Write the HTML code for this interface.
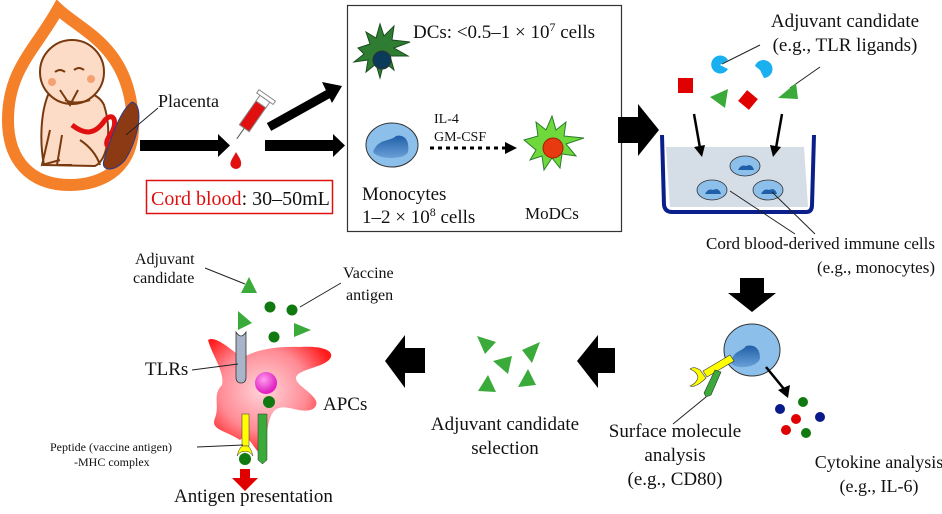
<!DOCTYPE html>
<html><head><meta charset="utf-8"><style>
html,body{margin:0;padding:0;background:#fff;}
svg{display:block;}
text{font-family:"Liberation Serif",serif;fill:#111;}
</style></head><body>
<svg width="942" height="514" viewBox="0 0 942 514" xmlns="http://www.w3.org/2000/svg">
<defs>
<radialGradient id="apc" cx="0.45" cy="0.45" r="0.6"><stop offset="0" stop-color="#ffd6dc"/><stop offset="0.6" stop-color="#ff8a94"/><stop offset="1" stop-color="#ff1a1a"/></radialGradient>
<radialGradient id="pk" cx="0.4" cy="0.35" r="0.6"><stop offset="0" stop-color="#ff9cf0"/><stop offset="1" stop-color="#e020c0"/></radialGradient>
<linearGradient id="nuc" x1="0" y1="0" x2="0" y2="1"><stop offset="0" stop-color="#1f5fa8"/><stop offset="1" stop-color="#6aa0d8"/></linearGradient>
</defs>

<!-- Orange drop / uterus -->
<path d="M58,9 C80,30 125,45 132,110 C140,170 100,185 70,185 C30,185 8,160 8,120 C8,70 35,50 58,9 Z" fill="none" stroke="#f5802a" stroke-width="12"/>
<!-- baby -->
<path d="M48,95 C40,115 40,145 44,165 L95,166 C108,160 112,130 104,105 C98,92 80,90 70,92 Z" fill="#fcdcc6" stroke="#7a3a10" stroke-width="2"/>
<circle cx="72" cy="72" r="32" fill="#fcdcc6" stroke="#7a3a10" stroke-width="2"/>
<path d="M55,72 q5,-4 10,0 M74,70 q5,-4 10,0" stroke="#7a3a10" stroke-width="2" fill="none"/>
<circle cx="52" cy="82" r="4" fill="#f5a070"/><circle cx="91" cy="79" r="4" fill="#f5a070"/>
<path d="M60,90 l10,15 l8,-15 M65,100 q10,5 25,0 M50,130 l-8,35 l18,-5 M62,135 l-5,30 l15,0 M80,140 q15,10 20,25" stroke="#7a3a10" stroke-width="2" fill="none"/>
<path d="M72,125 C85,135 95,135 105,120 C115,110 118,125 110,135 C100,150 115,150 122,140" stroke="#e01010" stroke-width="5" fill="none"/>
<path d="M132,102 C145,105 138,140 125,160 C115,172 100,172 104,160 C110,140 120,110 132,102 Z" fill="#8b3a14" stroke="#2a3a8a" stroke-width="1"/>
<line x1="126" y1="135" x2="158" y2="108" stroke="#222" stroke-width="1"/>
<text x="158" y="107" font-size="18">Placenta</text>

<!-- arrows from cord -->
<rect x="140" y="140" width="80" height="11" fill="#000"/><polygon points="218,134 230,145.5 218,157" fill="#000"/>
<g transform="rotate(35 250 120)"><rect x="244" y="100" width="12" height="30" fill="#e01010" stroke="#888"/><rect x="244" y="94" width="12" height="7" fill="#fff" stroke="#888"/><rect x="240" y="90" width="20" height="4" fill="#fff" stroke="#888"/><line x1="250" y1="130" x2="250" y2="143" stroke="#555"/></g>
<path d="M236,152 C233,158 229,162 231,166 C233,170 240,170 241,165 C242,160 238,156 236,152 Z" fill="#e01010"/>
<rect x="146.5" y="180.5" width="186" height="33" fill="none" stroke="#e01010" stroke-width="1.5"/>
<text x="151" y="205" font-size="20"><tspan fill="#e01010">Cord blood</tspan>: 30–50mL</text>
<line x1="269" y1="127" x2="330" y2="93" stroke="#000" stroke-width="9"/><polygon points="322,82 342,86 332,103" fill="#000"/>
<rect x="265" y="140" width="70" height="11" fill="#000"/><polygon points="333,134 345,145.5 333,157" fill="#000"/>

<!-- box -->
<rect x="347.5" y="5.5" width="274" height="226" fill="none" stroke="#333" stroke-width="1.2"/>
<path d="M358,48 l12,-4 l-4,-12 l10,6 l4,-14 l4,12 l10,-10 l-2,14 l18,2 l-16,6 l14,8 l-18,0 l4,14 l-10,-8 l-4,16 l-4,-14 l-10,8 l2,-12 l-14,2 l10,-8 z" fill="#2e7d32" stroke="#1b4d1f"/>
<circle cx="382" cy="60" r="9" fill="#0b3b5a" stroke="#333"/>
<text x="413" y="38" font-size="19">DCs: &lt;0.5–1 × 10<tspan font-size="12" dy="-7">7</tspan><tspan dy="7"> cells</tspan></text>
<ellipse cx="392" cy="145" rx="26" ry="22" fill="#8cc0ea" stroke="#333"/>
<path d="M373,152 C378,138 390,142 396,136 C404,134 410,140 408,152 C405,160 378,160 373,152 Z" fill="url(#nuc)"/>
<text x="434" y="123" font-size="14">IL-4</text>
<text x="434" y="141" font-size="14">GM-CSF</text>
<line x1="430" y1="148" x2="505" y2="148" stroke="#000" stroke-width="3" stroke-dasharray="4,4"/>
<polygon points="505,142 517,148 505,154" fill="#000"/>
<path d="M524,140 l14,-4 l-2,-14 l10,8 l6,-14 l4,14 l10,-8 l-2,14 l20,2 l-18,6 l10,12 l-14,-2 l-2,14 l-8,-10 l-8,12 l-2,-14 l-12,4 l6,-10 z" fill="#6fd83a" stroke="#2e7d32"/>
<circle cx="553" cy="148" r="10" fill="#e83a10" stroke="#a02000"/>
<text x="362" y="200" font-size="19">Monocytes</text>
<text x="362" y="223" font-size="19">1–2 × 10<tspan font-size="12" dy="-7">8</tspan><tspan dy="7"> cells</tspan></text>
<text x="525" y="219" font-size="17">MoDCs</text>

<polygon points="618,117 638,117 638,104 659,130 638,156 638,143 618,143" fill="#000"/>

<!-- top right -->
<text x="845" y="27" font-size="19" text-anchor="middle">Adjuvant candidate</text>
<text x="845" y="51" font-size="19" text-anchor="middle">(e.g., TLR ligands)</text>
<line x1="760" y1="45" x2="722" y2="64" stroke="#222" stroke-width="1"/>
<line x1="820" y1="67" x2="790" y2="88" stroke="#222" stroke-width="1"/>
<path d="M728,69 A9,9 0 1,1 728,60 L720,65 Z" fill="#1ab0f0"/>
<path d="M755,66 A9,9 0 1,1 764,78 L760,70 Z" fill="#1ab0f0"/>
<rect x="678" y="78" width="15" height="15" fill="#e00000"/>
<rect x="741" y="93" width="14" height="14" fill="#e00000" transform="rotate(40 748 100)"/>
<polygon points="710,97 728,89 725,108" fill="#3aaa3a"/>
<polygon points="778,98 796,83 798,99" fill="#3aaa3a"/>
<path d="M666,147 L804,147 L808,207 L670,207 Z" fill="#d5dde6"/>
<path d="M662,135 L664,205 Q665,212 672,212 L806,212 Q812,212 812,205 L814,135" fill="none" stroke="#0a1f8a" stroke-width="4"/>
<line x1="694" y1="114" x2="700" y2="148" stroke="#000" stroke-width="2.5"/><polygon points="694,147 705,145 702,157" fill="#000"/>
<line x1="782" y1="114" x2="776" y2="148" stroke="#000" stroke-width="2.5"/><polygon points="770,145 781,147 773,157" fill="#000"/>
<g stroke="#333" stroke-width="0.8"><ellipse cx="745" cy="166" rx="15" ry="10" fill="#8cc0ea"/><ellipse cx="712" cy="190" rx="15" ry="10" fill="#8cc0ea"/><ellipse cx="768" cy="190" rx="15" ry="10" fill="#8cc0ea"/></g>
<path d="M738,170 q3,-6 8,-4 q6,-3 8,4 z M705,194 q3,-6 8,-4 q6,-3 8,4 z M761,194 q3,-6 8,-4 q6,-3 8,4 z" fill="#1f5fa8"/>
<line x1="730" y1="191" x2="795" y2="234" stroke="#222" stroke-width="1"/>
<line x1="772" y1="192" x2="815" y2="234" stroke="#222" stroke-width="1"/>
<text x="935" y="249" font-size="17" text-anchor="end">Cord blood-derived immune cells</text>
<text x="935" y="273" font-size="17" text-anchor="end">(e.g., monocytes)</text>

<polygon points="740,278 764,278 764,293 776,293 752,312 728,293 740,293" fill="#000"/>

<ellipse cx="752" cy="350" rx="28" ry="26" fill="#8cc0ea" stroke="#333"/>
<path d="M731,363 C733,350 742,352 746,346 C754,344 760,348 760,358 C758,368 735,370 731,363 Z" fill="url(#nuc)"/>
<polygon points="703,371 730,355 734,361 707,377" fill="#ffff00" stroke="#333" stroke-width="0.6"/>
<path d="M700,370 Q694,366 690,369 Q697,372 698,377 Q697,383 690,386 Q696,388 706,378 Z" fill="#ffff00" stroke="#333" stroke-width="0.6"/>
<polygon points="704,393 715,370 721,372 711,395 706,397" fill="#3aaa3a" stroke="#333" stroke-width="0.6"/>
<line x1="706" y1="397" x2="673" y2="424" stroke="#222" stroke-width="1"/>
<line x1="766" y1="367" x2="784" y2="389" stroke="#000" stroke-width="2.5"/><polygon points="778,390 790,385 788,398" fill="#000"/>
<circle cx="780" cy="409" r="5" fill="#0a1a8a"/><circle cx="803" cy="402" r="5" fill="#107a10"/>
<circle cx="796" cy="419" r="5" fill="#e00000"/><circle cx="820" cy="417" r="5" fill="#0a1a8a"/>
<circle cx="786" cy="430" r="5" fill="#e00000"/><circle cx="806" cy="433" r="5" fill="#107a10"/>
<text x="675" y="437" font-size="19" text-anchor="middle">Surface molecule</text>
<text x="675" y="461" font-size="19" text-anchor="middle">analysis</text>
<text x="675" y="485" font-size="19" text-anchor="middle">(e.g., CD80)</text>
<text x="879" y="468" font-size="18" text-anchor="middle">Cytokine analysis</text>
<text x="879" y="492" font-size="18" text-anchor="middle">(e.g., IL-6)</text>

<polygon points="615,348 615,373 598,373 598,388 577,361 598,335 598,348" fill="#000"/>
<polygon points="425,348 425,373 405,373 405,388 385,361 405,335 405,348" fill="#000"/>
<g fill="#3aaa3a">
<polygon points="477,336 496,342 485,354"/><polygon points="493,361 512,356 508,374"/>
<polygon points="522,350 540,342 532,363"/><polygon points="478,391 488,375 496,392"/>
<polygon points="518,387 528,369 536,385"/></g>
<text x="505" y="430" font-size="19" text-anchor="middle">Adjuvant candidate</text>
<text x="505" y="454" font-size="19" text-anchor="middle">selection</text>

<text x="135" y="264" font-size="16">Adjuvant</text>
<text x="133" y="283" font-size="16">candidate</text>
<line x1="205" y1="268" x2="245" y2="284" stroke="#222" stroke-width="1"/>
<polygon points="241,293 249,277 257,293" fill="#3aaa3a"/>
<text x="343" y="278" font-size="16">Vaccine</text>
<text x="346" y="300" font-size="16">antigen</text>
<line x1="341" y1="283" x2="300" y2="307" stroke="#222" stroke-width="1"/>
<circle cx="270" cy="307" r="5.5" fill="#107a10"/><circle cx="292" cy="310" r="5.5" fill="#107a10"/>
<circle cx="274" cy="337" r="5.5" fill="#107a10"/>
<polygon points="238,311 252,323 238,330" fill="#3aaa3a"/>
<polygon points="294,323 311,330 294,337" fill="#3aaa3a"/>
<path d="M208,340 C215,335 232,350 242,358 C255,350 275,346 300,347 C335,345 340,358 318,366 C300,372 290,375 300,385 C312,395 322,402 313,409 C300,415 285,402 275,410 C265,420 268,445 262,452 C255,456 250,430 240,440 C225,430 210,430 215,418 C220,405 212,395 222,385 C225,372 212,355 208,340 Z" fill="url(#apc)"/>
<path d="M236,332 L236,377 Q236,383 241,383 Q246,383 246,377 L246,332 Q241,340 236,332 Z" fill="#aab4c8" stroke="#333" stroke-width="0.8"/>
<line x1="192" y1="370" x2="238" y2="364" stroke="#222" stroke-width="1"/>
<text x="145" y="375" font-size="19">TLRs</text>
<circle cx="266" cy="383" r="11" fill="url(#pk)"/>
<circle cx="269" cy="402" r="6" fill="#107a10"/>
<text x="323" y="410" font-size="19">APCs</text>
<rect x="242" y="414" width="7" height="32" fill="#ffff00" stroke="#333" stroke-width="0.5"/>
<path d="M237,456 Q240,444 245,446 Q250,444 253,456 Q249,450 245,452 Q241,450 237,456 Z" fill="#ffff00" stroke="#333" stroke-width="0.5"/>
<circle cx="245" cy="459" r="6" fill="#107a10"/>
<polygon points="258,414 267,414 267,460 262.5,464 258,460" fill="#3aaa3a" stroke="#333" stroke-width="0.5"/>
<line x1="197" y1="447" x2="243" y2="445" stroke="#222" stroke-width="1"/>
<text x="50" y="451" font-size="12">Peptide (vaccine antigen)</text>
<text x="74" y="466" font-size="12">-MHC complex</text>
<polygon points="240,469 250,469 250,478 258,478 245,491 232,478 240,478" fill="#e00000"/>
<text x="174" y="502" font-size="19">Antigen presentation</text>
</svg>
</body></html>
